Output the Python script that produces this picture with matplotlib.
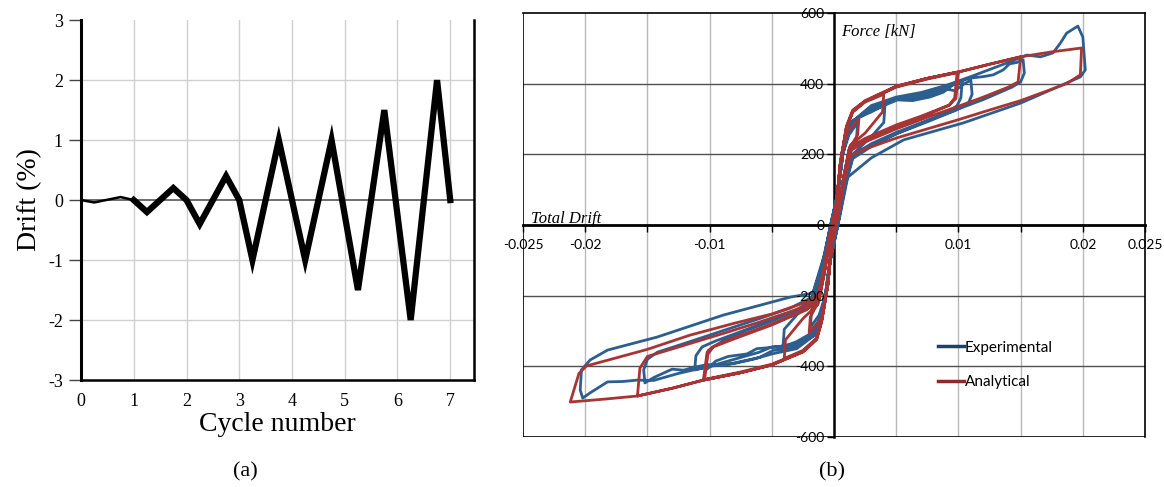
import matplotlib.pyplot as plt
from matplotlib.lines import Line2D

# ---------------- panel (a): loading protocol ----------------
cycle_pre = [0, 0.25, 0.75, 1]
drift_pre = [0, -0.04, 0.05, 0]
cycle_main = [1, 1.25, 1.75, 2, 2.25, 2.75, 3, 3.25, 3.75, 4.25, 4.75, 5.25, 5.75, 6.25, 6.75, 7]
drift_main = [0, -0.2, 0.2, 0, -0.4, 0.4, 0, -1, 1, -1, 1, -1.5, 1.5, -2, 2, 0]

# ---------------- panel (b): hysteresis loops ----------------
# analytical (drift, force in kN)
ana_drift = [
    0, 0.0003, 0.0006, 0.001, 0.002, 0.0019, 0.0012, 0.0007, 0.0003, -0.0002, -0.0005, -0.001, -0.002,
    -0.0019, -0.0012, -0.0007, -0.0003, 0.0002,
    0.0005, 0.001, 0.0015, 0.0025, 0.004, 0.0039, 0.0025, 0.0013, 0.0008, 0.0003, -0.0002, -0.0005, -0.001,
    -0.0014, -0.0025, -0.004, -0.0039, -0.0025, -0.0013, -0.0008, -0.0003, 0.0002,
    0.0005, 0.001, 0.0015, 0.0025, 0.005, 0.0075, 0.0099, 0.0097, 0.0093, 0.007, 0.005, 0.0025, 0.0013,
    0.0008, 0.0003, -0.0002, -0.0005, -0.001, -0.0014, -0.0025, -0.005, -0.0075, -0.0105, -0.0102, -0.0097,
    -0.008, -0.005, -0.0022, -0.0013, -0.0008, -0.0003, 0.0002,
    0.0005, 0.001, 0.0015, 0.0025, 0.005, 0.0075, 0.0100, 0.0098, 0.0092, 0.007, 0.005, 0.0025, 0.0013,
    0.0008, 0.0003, -0.0002, -0.0005, -0.001, -0.0014, -0.0025, -0.005, -0.0075, -0.0104, -0.0101, -0.0096,
    -0.008, -0.005, -0.0022, -0.0013, -0.0008, -0.0003, 0.0002,
    0.0005, 0.001, 0.0015, 0.0025, 0.005, 0.0075, 0.01, 0.0125, 0.015, 0.0148, 0.014, 0.012, 0.01, 0.0075,
    0.005, 0.0025, 0.0013, 0.0008, 0.0003, -0.0002, -0.0005, -0.001, -0.0014, -0.0025, -0.005, -0.0075,
    -0.0105, -0.013, -0.0158, -0.0156, -0.015, -0.012, -0.009, -0.006, -0.0035, -0.0022, -0.0013, -0.0008,
    -0.0003, 0.0002,
    0.0005, 0.001, 0.0015, 0.0025, 0.005, 0.0075, 0.01, 0.0125, 0.015, 0.0175, 0.0199, 0.0198, 0.0187,
    0.015, 0.012, 0.01, 0.0075, 0.005, 0.0025, 0.0013, 0.0008, 0.0003, -0.0002, -0.0005, -0.001, -0.0014,
    -0.0025, -0.005, -0.0075, -0.0105, -0.013, -0.0158, -0.0185, -0.0212, -0.0205, -0.0199, -0.015,
    -0.0116, -0.008, -0.005, -0.0022, -0.0013, -0.0008, -0.0003, 0,
]
ana_force = [
    0, 100, 200, 260, 300, 255, 215, 120, 30, -60, -170, -265, -305,
    -260, -215, -120, -30, 60,
    170, 275, 320, 348, 370, 320, 260, 225, 140, 30, -60, -170, -270,
    -320, -355, -378, -325, -265, -225, -140, -30, 60,
    175, 280, 325, 352, 393, 415, 433, 360, 340, 308, 283, 245, 220,
    140, 30, -60, -170, -275, -325, -360, -396, -418, -439, -360, -345,
    -322, -283, -240, -215, -140, -30, 60,
    170, 275, 320, 350, 390, 413, 432, 358, 338, 305, 280, 242, 218,
    138, 28, -60, -168, -272, -322, -358, -394, -416, -437, -355, -342,
    -318, -280, -238, -213, -138, -28, 60,
    170, 275, 322, 350, 392, 415, 433, 455, 476, 405, 390, 362, 336, 305,
    272, 235, 210, 130, 25, -60, -168, -272, -322, -358, -396, -418,
    -439, -462, -484, -405, -372, -340, -308, -275, -245, -228, -208, -130,
    -25, 60,
    170, 275, 322, 350, 392, 415, 433, 455, 476, 490, 501, 425, 400,
    352, 320, 298, 272, 246, 215, 195, 120, 20, -60, -168, -272, -322,
    -358, -396, -418, -439, -462, -484, -493, -501, -420, -399, -352,
    -312, -278, -252, -218, -198, -120, -20, 0,
]

# experimental (drift, force in kN)
exp_drift = [
    0, 0.0003, 0.0007, 0.0012, 0.0019, 0.0018, 0.0012, 0.0006, 0.0002, -0.0003, -0.0007, -0.0012, -0.0019,
    -0.0018, -0.0012, -0.0006, -0.0002,
    0.0003, 0.0007, 0.0012, 0.002, 0.003, 0.0041, 0.004, 0.003, 0.0015, 0.0009, 0.0003, -0.0003, -0.0007,
    -0.0012, -0.002, -0.003, -0.0041, -0.004, -0.003, -0.0015, -0.0009, -0.0003,
    0.0003, 0.0008, 0.0013, 0.0031, 0.0051, 0.0063, 0.0077, 0.0088, 0.0095, 0.0101, 0.0103, 0.0102, 0.0099,
    0.0093, 0.0075, 0.005, 0.003, 0.0015, 0.0009, 0.0003, -0.0003, -0.0008, -0.0015, -0.003, -0.0045,
    -0.0062, -0.007, -0.0085, -0.0095, -0.0101, -0.0103, -0.0102, -0.0097, -0.009, -0.0072, -0.005, -0.003,
    -0.0017, -0.001, -0.0003,
    0.0003, 0.0008, 0.0014, 0.003, 0.005, 0.0065, 0.008, 0.009, 0.0097, 0.0104, 0.011, 0.0111, 0.0108,
    0.0098, 0.0075, 0.005, 0.003, 0.0015, 0.0009, 0.0003, -0.0003, -0.0008, -0.0015, -0.003, -0.005,
    -0.006, -0.0073, -0.0085, -0.0095, -0.0105, -0.0112, -0.0111, -0.0106, -0.0095, -0.0072, -0.005,
    -0.003, -0.0017, -0.001, -0.0003,
    0.0003, 0.0008, 0.0014, 0.003, 0.005, 0.007, 0.0085, 0.0098, 0.0108, 0.012, 0.0128, 0.0136, 0.0141,
    0.0147, 0.0152, 0.0153, 0.015, 0.0143, 0.012, 0.0095, 0.0075, 0.005, 0.003, 0.0015, 0.0009, 0.0003,
    -0.0003, -0.0008, -0.0015, -0.003, -0.0049, -0.006, -0.0073, -0.009, -0.0102, -0.0115, -0.0121,
    -0.013, -0.0137, -0.0145, -0.0152, -0.0153, -0.015, -0.0142, -0.012, -0.009, -0.006, -0.0035,
    -0.0018, -0.001, -0.0003,
    0.0003, 0.0008, 0.0014, 0.003, 0.005, 0.007, 0.009, 0.011, 0.0125, 0.014, 0.0155, 0.0166, 0.0176,
    0.0182, 0.0187, 0.0196, 0.0200, 0.0202, 0.0198, 0.0187, 0.015, 0.0104, 0.0056, 0.003, 0.0011, 0.0005,
    -0.0003, -0.0008, -0.0015, -0.003, -0.005, -0.0065, -0.008, -0.01, -0.0125, -0.0145, -0.0158, -0.017,
    -0.0182, -0.0196, -0.0202, -0.0204, -0.0203, -0.0196, -0.0182, -0.0142, -0.0089, -0.0035, -0.0017,
    -0.001, 0,
]
exp_force = [
    0, 90, 200, 255, 290, 240, 195, 90, 10, -90, -200, -255, -290,
    -240, -195, -90, -10,
    90, 200, 265, 305, 320, 340, 290, 250, 200, 130, 10, -90, -200,
    -270, -310, -330, -345, -295, -255, -205, -130, -10,
    90, 230, 290, 325, 354, 352, 362, 376, 395, 405, 405, 360, 338,
    322, 296, 262, 230, 198, 120, 0, -100, -230, -300, -335, -345,
    -350, -365, -372, -385, -405, -410, -368, -345, -330, -300, -272, -243,
    -215, -130, -5,
    90, 225, 292, 330, 355, 360, 372, 385, 380, 398, 410, 370, 345,
    325, 292, 258, 225, 192, 115, 0, -100, -230, -305, -340, -345,
    -360, -373, -385, -395, -405, -410, -370, -345, -328, -298, -268,
    -240, -212, -125, -5,
    90, 225, 290, 335, 358, 368, 385, 400, 415, 420, 425, 439, 456,
    460, 468, 430, 405, 390, 355, 322, 295, 258, 222, 188, 110, 0,
    -100, -235, -310, -345, -355, -375, -385, -398, -395, -405, -411,
    -408, -419, -432, -447, -410, -380, -360, -335, -300, -265, -235,
    -205, -120, -5,
    90, 225, 290, 338, 362, 375, 395, 420, 440, 460, 481, 476, 487,
    515, 543, 563, 532, 439, 419, 402, 345, 289, 241, 190, 135, 30,
    -100, -235, -310, -350, -365, -380, -392, -400, -420, -440, -439, -443,
    -444, -475, -490, -467, -410, -382, -354, -317, -255, -204, -193,
    -110, 0,
]

x_ticks_b = [-0.025, -0.02, -0.01, 0.01, 0.02, 0.025]
x_minor_b = [-0.015, -0.005, 0.005, 0.015]
y_ticks_b = [-600, -400, -200, 0, 200, 400, 600]
x_grid_b = [-0.02, -0.015, -0.01, -0.005, 0.005, 0.01, 0.015, 0.02]
y_grid_b = [-400, -200, 200, 400]

serif = 'Liberation Serif'
sans = 'Lato'

fig = plt.figure(figsize=(11.64, 4.87), dpi=100)

# ---------- (a) ----------
ax1 = fig.add_axes([0.0696, 0.2197, 0.3376, 0.739])
ax1.set_xlim(0, 7.45)
ax1.set_ylim(-3, 3)
for gx in range(1, 8):
    ax1.axvline(gx, color='#d0d0d0', lw=1, zorder=0)
for gy in [-2, -1, 1, 2]:
    ax1.axhline(gy, color='#d0d0d0', lw=1, zorder=0)
ax1.axhline(0, color='#555555', lw=1.2, zorder=1)
ax1.plot(cycle_pre, drift_pre, color='black', lw=1.8, zorder=3)
ax1.plot(cycle_main, drift_main, color='black', lw=4.5, solid_joinstyle='miter', zorder=3)
ax1.spines['top'].set_visible(False)
ax1.spines['left'].set_linewidth(2.2)
ax1.spines['right'].set_linewidth(1.8)
ax1.spines['bottom'].set_linewidth(1.8)
ax1.set_xticks(range(0, 8))
ax1.set_yticks(range(-3, 4))
ax1.set_yticklabels([str(v) for v in range(-3, 4)])
ax1.tick_params(axis='x', length=0, pad=9, labelsize=13)
ax1.tick_params(axis='y', length=9, width=1, color='#444444', pad=4, labelsize=13)
for lab in ax1.get_xticklabels() + ax1.get_yticklabels():
    lab.set_fontfamily(serif)
ax1.set_xlabel('Cycle number', fontsize=20, family=serif, labelpad=2)
ax1.set_ylabel('Drift (%)', fontsize=20, family=serif, labelpad=4)

# ---------- (b) ----------
ax2 = fig.add_axes([0.4493, 0.1027, 0.5344, 0.8706])
ax2.set_xlim(-0.025, 0.025)
ax2.set_ylim(-600, 600)
for gx in x_grid_b:
    ax2.axvline(gx, color='#b8b8b8', lw=1, zorder=0)
for gy in y_grid_b:
    ax2.axhline(gy, color='#505050', lw=1, zorder=0)
ax2.axvline(-0.025, color='black', lw=1.2, zorder=1)
ax2.axhline(-600, color='black', lw=1.2, zorder=1)

l_exp, = ax2.plot(exp_drift, exp_force, color='#2c5f8f', lw=2, zorder=3)
l_ana, = ax2.plot(ana_drift, ana_force, color='#a83535', lw=2, zorder=4)

ax2.spines['left'].set_position(('data', 0))
ax2.spines['bottom'].set_position(('data', 0))
for s in ax2.spines.values():
    s.set_color('black')
ax2.spines['left'].set_linewidth(1.8)
ax2.spines['bottom'].set_linewidth(2)
ax2.spines['top'].set_linewidth(1.2)
ax2.spines['right'].set_linewidth(1.2)

ax2.set_xticks(x_ticks_b)
ax2.set_xticklabels(['-0.025', '-0.02', '-0.01', '0.01', '0.02', '0.025'])
ax2.set_xticks(x_minor_b, minor=True)
ax2.set_yticks(y_ticks_b)
ax2.set_yticklabels([str(v) for v in y_ticks_b])
ax2.tick_params(axis='x', which='both', direction='out', length=5, width=1, pad=5, labelsize=10)
ax2.tick_params(axis='y', direction='out', length=5, width=1, pad=2, labelsize=10)
for lab in ax2.get_xticklabels() + ax2.get_yticklabels():
    lab.set_fontfamily(sans)
ax2.yaxis.set_zorder(5)

ax2.text(0.0135, 0.515, 'Total Drift', transform=ax2.transAxes, fontsize=12,
         style='italic', family=serif, va='center', ha='left')
ax2.text(0.512, 0.955, 'Force [kN]', transform=ax2.transAxes, fontsize=12,
         style='italic', family=serif, va='center', ha='left')

ax2.legend([Line2D([], [], color='#1f4068', lw=2.5), Line2D([], [], color='#8c2a2a', lw=2.5)],
           ['Experimental', 'Analytical'], loc='upper left', bbox_to_anchor=(0.655, 0.245),
           frameon=False, handlelength=1.7, handletextpad=0.05, labelspacing=1.35,
           prop={'family': sans, 'size': 11}, borderpad=0)

fig.text(245 / 1164, 1 - 472 / 487, '(a)', fontsize=16, family=serif, ha='center', va='center')
fig.text(832 / 1164, 1 - 472 / 487, '(b)', fontsize=16, family=serif, ha='center', va='center')

fig.savefig('out.png', dpi=100)
